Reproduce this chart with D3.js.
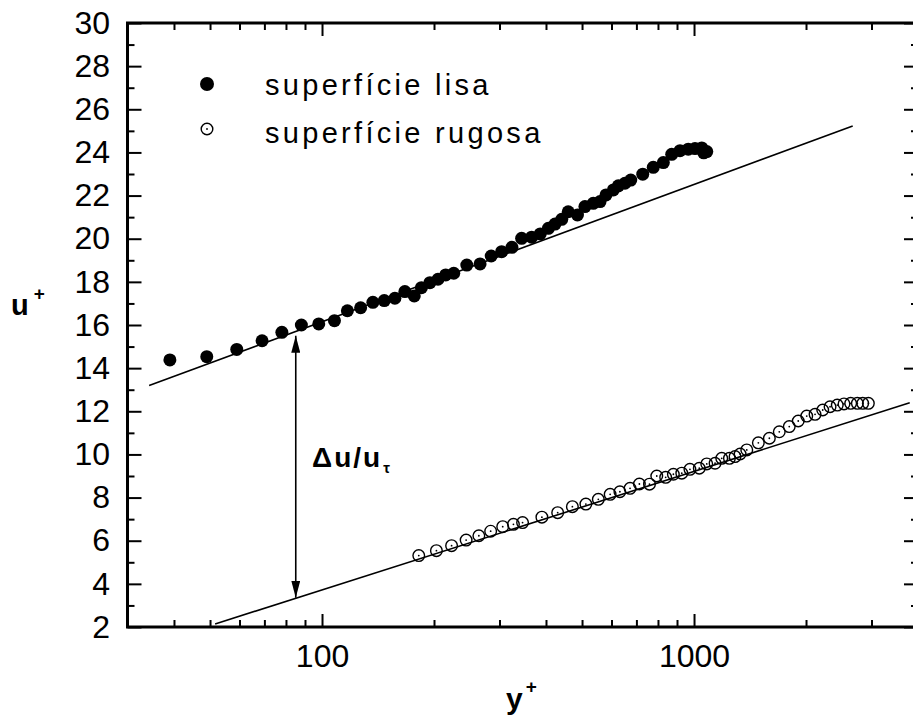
<!DOCTYPE html>
<html>
<head>
<meta charset="utf-8" />
<title>u+ vs y+</title>
<script src="https://cdnjs.cloudflare.com/ajax/libs/d3/7.8.5/d3.min.js"></script>
<style>
  body { margin: 0; background: #fff; }
  svg { font-family: "Liberation Sans", Arial, sans-serif; }
  .tick line { stroke: #000; stroke-width: 2; }
  .tick text { font-size: 32px; fill: #000; }
  .domain { display: none; }
</style>
</head>
<body>
<svg width="913" height="720"></svg>
<script>
// superfície lisa (filled dots)
const smoothYp = [39, 49, 59, 69, 78, 88, 98, 108, 117, 127, 137, 147, 157, 167, 177, 185, 195, 205, 215, 226,
  245, 266, 285, 304, 324, 344, 366, 386, 406, 423, 441, 459, 486, 509, 536, 559, 580, 607, 626, 652,
  676, 728, 777, 827, 871, 917, 965, 1006, 1049, 1062, 1082];
const smoothUp = [14.38, 14.53, 14.87, 15.27, 15.66, 16.0, 16.05, 16.2, 16.66, 16.8, 17.05, 17.13, 17.24, 17.55, 17.35, 17.73, 17.96, 18.12, 18.32, 18.4,
  18.78, 18.83, 19.2, 19.4, 19.6, 20.02, 20.07, 20.22, 20.48, 20.68, 20.9, 21.25, 21.1, 21.49, 21.64, 21.72, 22.03, 22.26, 22.45, 22.57,
  22.72, 22.99, 23.31, 23.53, 23.91, 24.08, 24.15, 24.18, 24.21, 23.98, 24.04];

// superfície rugosa (open circles)
const roughYp = [182, 203, 223, 244, 264, 284, 306, 327, 346, 390, 430, 471, 512, 553, 595, 632, 673, 713, 759, 794,
  839, 880, 927, 975, 1033, 1082, 1139, 1187, 1245, 1289, 1330, 1386, 1489, 1594, 1695, 1803, 1906, 2009, 2115, 2218,
  2321, 2427, 2530, 2637, 2748, 2841, 2942];
const roughUp = [5.31, 5.54, 5.77, 6.03, 6.23, 6.44, 6.65, 6.76, 6.84, 7.09, 7.3, 7.58, 7.7, 7.92, 8.15, 8.27, 8.43, 8.63, 8.62, 9.0,
  8.94, 9.08, 9.13, 9.31, 9.36, 9.56, 9.59, 9.82, 9.82, 9.9, 10.02, 10.21, 10.54, 10.75, 11.05, 11.29, 11.55, 11.78, 11.86, 12.06,
  12.21, 12.29, 12.34, 12.37, 12.37, 12.37, 12.37];

// log-law lines
const smoothFitYp = [34.3, 2670];
const smoothFitUp = [13.19, 25.23];
const roughFitYp = [51.6, 3800];
const roughFitUp = [2.14, 12.4];

// delta arrow
const arrowYp = 85;
const arrowUp = [15.5, 3.36];

const xMajorTicks = [100, 1000];
const xMinorTicks = [40, 50, 60, 70, 80, 90, 200, 300, 400, 500, 600, 700, 800, 900, 2000, 3000];
const yMajorTicks = [2, 4, 6, 8, 10, 12, 14, 16, 18, 20, 22, 24, 26, 28, 30];
const yMinorTicks = [3, 5, 7, 9, 11, 13, 15, 17, 19, 21, 23, 25, 27, 29];
const legendLabels = ["superfície lisa", "superfície rugosa"];

let svg = d3.select("svg"),
  box = { left: 127.5, right: 918, top: 23, bottom: 627 };

let x = d3.scaleLog().domain([30, 4000]).range([box.left, box.right]),
  y = d3.scaleLinear().domain([2, 30]).range([box.bottom, box.top]);

// axes: bottom / top
svg.append("g").attr("transform", `translate(0,${box.bottom})`)
  .call(d3.axisBottom(x).tickValues(xMajorTicks).tickFormat(d3.format("d")).tickSize(-13).tickPadding(17));
svg.append("g").attr("transform", `translate(0,${box.bottom})`)
  .call(d3.axisBottom(x).tickValues(xMinorTicks).tickFormat("").tickSize(-7));
svg.append("g").attr("transform", `translate(0,${box.top})`)
  .call(d3.axisTop(x).tickValues(xMajorTicks).tickFormat("").tickSize(-13));
svg.append("g").attr("transform", `translate(0,${box.top})`)
  .call(d3.axisTop(x).tickValues(xMinorTicks).tickFormat("").tickSize(-7));

// axes: left / right
svg.append("g").attr("transform", `translate(${box.left},0)`)
  .call(d3.axisLeft(y).tickValues(yMajorTicks).tickSize(-14).tickPadding(17.5));
svg.append("g").attr("transform", `translate(${box.left},0)`)
  .call(d3.axisLeft(y).tickValues(yMinorTicks).tickFormat("").tickSize(-7));
svg.append("g").attr("transform", `translate(${box.right},0)`)
  .call(d3.axisRight(y).tickValues(yMajorTicks).tickFormat("").tickSize(-14));
svg.append("g").attr("transform", `translate(${box.right},0)`)
  .call(d3.axisRight(y).tickValues(yMinorTicks).tickFormat("").tickSize(-7));

// frame
svg.append("rect")
  .attr("x", box.left).attr("y", box.top)
  .attr("width", box.right - box.left).attr("height", box.bottom - box.top)
  .attr("fill", "none").attr("stroke", "#000").attr("stroke-width", 3);

// fit lines
let line = d3.line().x((d) => x(d[0])).y((d) => y(d[1]));
[[smoothFitYp, smoothFitUp], [roughFitYp, roughFitUp]].forEach(([xs, ys]) => {
  svg.append("path")
    .attr("d", line(xs.map((v, i) => [v, ys[i]])))
    .attr("fill", "none").attr("stroke", "#000").attr("stroke-width", 1.6);
});

// arrow heads
svg.append("defs").append("marker")
  .attr("id", "head")
  .attr("viewBox", "0 0 17 9")
  .attr("refX", 17).attr("refY", 4.5)
  .attr("markerWidth", 17).attr("markerHeight", 9)
  .attr("markerUnits", "userSpaceOnUse")
  .attr("orient", "auto-start-reverse")
  .append("path").attr("d", "M0,0 L17,4.5 L0,9 Z").attr("fill", "#000");

svg.append("line")
  .attr("x1", x(arrowYp)).attr("x2", x(arrowYp))
  .attr("y1", y(arrowUp[0])).attr("y2", y(arrowUp[1]))
  .attr("stroke", "#000").attr("stroke-width", 1.6)
  .attr("marker-start", "url(#head)")
  .attr("marker-end", "url(#head)");

// data: smooth
svg.append("g").selectAll("circle")
  .data(smoothYp.map((v, i) => [v, smoothUp[i]]))
  .enter().append("circle")
  .attr("cx", (d) => x(d[0])).attr("cy", (d) => y(d[1]))
  .attr("r", 6.5).attr("fill", "#000");

// data: rough
let rough = svg.append("g").selectAll("g")
  .data(roughYp.map((v, i) => [v, roughUp[i]]))
  .enter().append("g")
  .attr("transform", (d) => `translate(${x(d[0])},${y(d[1])})`);
rough.append("circle").attr("r", 5.8).attr("fill", "none").attr("stroke", "#000").attr("stroke-width", 1.4);
rough.append("circle").attr("r", 0.9).attr("fill", "#000");

// legend
let leg = svg.append("g");
leg.append("circle").attr("cx", 207).attr("cy", 84).attr("r", 7).attr("fill", "#000");
let lg2 = leg.append("g").attr("transform", "translate(207,129)");
lg2.append("circle").attr("r", 5.8).attr("fill", "none").attr("stroke", "#000").attr("stroke-width", 1.4);
lg2.append("circle").attr("r", 0.9).attr("fill", "#000");
leg.selectAll("text")
  .data(legendLabels)
  .enter().append("text")
  .attr("x", 265).attr("y", (d, i) => 95 + i * 48)
  .attr("font-size", 29).attr("letter-spacing", 3.3)
  .text((d) => d);

// axis titles
let yl = svg.append("text").attr("x", 11).attr("y", 315)
  .attr("font-size", 29).attr("font-weight", "bold").text("u");
yl.append("tspan").attr("dx", 5).attr("dy", -15).attr("font-size", 19).text("+");

let xl = svg.append("text").attr("x", 506).attr("y", 709)
  .attr("font-size", 30).attr("font-weight", "bold").text("y");
xl.append("tspan").attr("dx", 3).attr("dy", -16).attr("font-size", 19).text("+");

// delta label
let dl = svg.append("text").attr("x", 312).attr("y", 467)
  .attr("font-size", 28).attr("font-weight", "bold").attr("letter-spacing", 2)
  .text("\u0394u/u");
dl.append("tspan").attr("dx", 1).attr("dy", 6).attr("font-size", 15).text("\u03c4");
</script>
</body>
</html>
